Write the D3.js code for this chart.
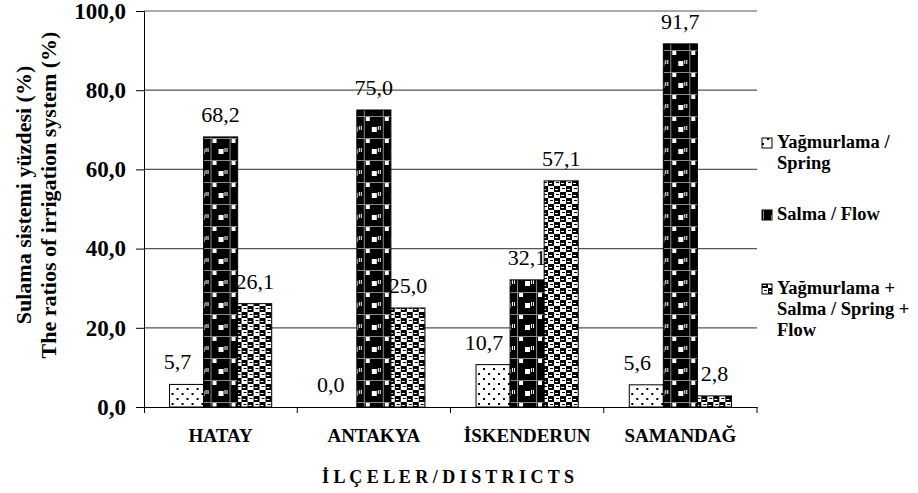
<!DOCTYPE html>
<html>
<head>
<meta charset="utf-8">
<script src="https://cdn.jsdelivr.net/npm/d3@7"></script>
<style>
  html, body { margin: 0; padding: 0; background: #fff; }
  svg { display: block; }
  svg text { font-family: "Times New Roman", "Liberation Serif", Times, Tinos, "DejaVu Serif", serif !important; fill: #000; }
</style>
</head>
<body>
<svg id="chart" width="918" height="493"></svg>
<script>
// Irrigation system shares by district (%)
const districts = ["HATAY", "ANTAKYA", "İSKENDERUN", "SAMANDAĞ"];
const seriesNames = ["Yağmurlama / Spring", "Salma / Flow", "Yağmurlama + Salma / Spring + Flow"];
const springValues = [5.7, 0.0, 10.7, 5.6];
const flowValues = [68.2, 75.0, 32.1, 91.7];
const springFlowValues = [26.1, 25.0, 57.1, 2.8];
const yTicks = [0, 20, 40, 60, 80, 100];
const legendLines = [["Yağmurlama /", "Spring"], ["Salma / Flow"], ["Yağmurlama +", "Salma / Spring +", "Flow"]];
const yTitleLines = ["Sulama sistemi yüzdesi (%)", "The ratios of irrigation system (%)"];
const xTitle = "İ L Ç E L E R / D I S T R I C T S";

const seriesValues = [springValues, flowValues, springFlowValues];
const labelShift = [-9, 0, 0]; // horizontal nudge of value labels per series
const svg = d3.select("#chart");

const plot = { left: 144, right: 757, top: 11, bottom: 407 };

// Fill patterns for the three series
const defs = svg.append("defs");

const dots = defs.append("pattern").attr("id", "pat-spring")
  .attr("patternUnits", "userSpaceOnUse").attr("width", 10).attr("height", 10);
dots.append("rect").attr("width", 10).attr("height", 10).attr("fill", "#fff");
dots.append("rect").attr("x", 2).attr("y", 3).attr("width", 2).attr("height", 2).attr("fill", "#000");
dots.append("rect").attr("x", 7).attr("y", 8).attr("width", 2).attr("height", 2).attr("fill", "#000");

const blocks = defs.append("pattern").attr("id", "pat-flow")
  .attr("patternUnits", "userSpaceOnUse").attr("width", 19).attr("height", 22)
  .attr("x", 3).attr("y", 6);
blocks.append("rect").attr("width", 19).attr("height", 22).attr("fill", "#000");
blocks.append("rect").attr("x", 0).attr("y", 0).attr("width", 19).attr("height", 1).attr("fill", "#8a8a8a");
blocks.append("rect").attr("x", 0).attr("y", 0).attr("width", 1).attr("height", 22).attr("fill", "#8a8a8a");
blocks.append("rect").attr("x", 8).attr("y", 11).attr("width", 5).attr("height", 5).attr("fill", "#fff");
blocks.append("rect").attr("x", 2).attr("y", 1).attr("width", 4).attr("height", 4).attr("fill", "#fff");
blocks.append("rect").attr("x", 14).attr("y", 10).attr("width", 1).attr("height", 4).attr("fill", "#fff");
blocks.append("rect").attr("x", 16).attr("y", 10).attr("width", 1).attr("height", 4).attr("fill", "#fff");

const weave = defs.append("pattern").attr("id", "pat-both")
  .attr("patternUnits", "userSpaceOnUse").attr("width", 12).attr("height", 12);
weave.append("rect").attr("width", 12).attr("height", 12).attr("fill", "#fff");
weave.append("rect").attr("x", 0).attr("y", 0).attr("width", 6).attr("height", 6).attr("fill", "#000");
weave.append("rect").attr("x", 6).attr("y", 6).attr("width", 6).attr("height", 6).attr("fill", "#000");
weave.append("rect").attr("x", 1).attr("y", 3).attr("width", 3).attr("height", 1).attr("fill", "#fff");
weave.append("rect").attr("x", 7).attr("y", 9).attr("width", 3).attr("height", 1).attr("fill", "#fff");
weave.append("rect").attr("x", 8).attr("y", 2).attr("width", 3).attr("height", 1).attr("fill", "#000");
weave.append("rect").attr("x", 2).attr("y", 8).attr("width", 3).attr("height", 1).attr("fill", "#000");

const fills = ["url(#pat-spring)", "url(#pat-flow)", "url(#pat-both)"];

// Scales
const x0 = d3.scaleBand().domain(districts).range([plot.left, plot.right])
  .paddingInner(1 / 3).paddingOuter(1 / 6);
const x1 = d3.scaleBand().domain(d3.range(seriesValues.length)).range([0, x0.bandwidth()]);
const y = d3.scaleLinear().domain([0, 100]).range([plot.bottom, plot.top]);
const fmt = v => d3.format(".1f")(v).replace(".", ",");

// Gridlines
svg.append("g").selectAll("line").data(yTicks.filter(t => t > 0)).join("line")
  .attr("x1", plot.left).attr("x2", plot.right)
  .attr("y1", d => y(d)).attr("y2", d => y(d))
  .attr("stroke", "#555").attr("stroke-width", 1.2);

// Bars
const groups = svg.append("g").selectAll("g").data(districts).join("g")
  .attr("transform", d => `translate(${x0(d)},0)`);

groups.selectAll("rect")
  .data((d, i) => seriesValues.map((vals, s) => ({ s, v: vals[i] })))
  .join("rect")
  .attr("x", d => x1(d.s))
  .attr("y", d => y(d.v))
  .attr("width", x1.bandwidth())
  .attr("height", d => y(0) - y(d.v))
  .attr("fill", d => fills[d.s])
  .attr("stroke", "#000").attr("stroke-width", 1);

// Value labels
groups.selectAll("text.val")
  .data((d, i) => seriesValues.map((vals, s) => ({ s, v: vals[i] })))
  .join("text").attr("class", "val")
  .attr("x", d => x1(d.s) + x1.bandwidth() / 2 + labelShift[d.s])
  .attr("y", d => y(d.v) - 15)
  .attr("text-anchor", "middle")
  .style("font-size", "22px")
  .text(d => fmt(d.v));

// Y axis
const yAxis = svg.append("g").attr("transform", `translate(${plot.left},0)`)
  .call(d3.axisLeft(y).tickValues(yTicks).tickFormat(fmt).tickSize(8).tickPadding(10));
yAxis.attr("font-family", null);
yAxis.select(".domain").attr("stroke", "#000");
yAxis.selectAll(".tick line").attr("stroke", "#000");
yAxis.selectAll("text").style("font-size", "23px").style("font-weight", "bold").attr("fill", "#000");

// X axis
const xAxis = svg.append("g").attr("transform", `translate(0,${plot.bottom})`)
  .call(d3.axisBottom(x0).tickSize(0).tickPadding(22));
xAxis.attr("font-family", null);
xAxis.select(".domain").attr("stroke", "#000");
xAxis.selectAll("text").style("font-size", "19px").style("font-weight", "bold").attr("fill", "#000");
svg.append("g").selectAll("line")
  .data(d3.range(districts.length + 1)).join("line")
  .attr("x1", i => plot.left + i * x0.step() + (i === 0 ? 0.5 : 0))
  .attr("x2", i => plot.left + i * x0.step() + (i === 0 ? 0.5 : 0))
  .attr("y1", plot.bottom).attr("y2", plot.bottom + 6)
  .attr("stroke", "#000");

// Axis titles
const yTitle = svg.append("text")
  .attr("transform", "translate(0,195) rotate(-90)")
  .attr("text-anchor", "middle")
  .style("font-size", "22px").style("font-weight", "bold");
yTitle.selectAll("tspan").data(yTitleLines).join("tspan")
  .attr("x", 0).attr("y", (d, i) => 31 + i * 25)
  .text(d => d);

svg.append("text")
  .attr("x", 448).attr("y", 483)
  .attr("text-anchor", "middle")
  .style("font-size", "18px").style("font-weight", "bold")
  .text(xTitle);

// Legend
const legendTop = [148, 220, 294];
const legend = svg.append("g").selectAll("g").data(seriesNames).join("g");
legend.append("rect")
  .attr("x", 762).attr("y", (d, i) => legendTop[i] - 10)
  .attr("width", 10).attr("height", 10)
  .attr("fill", (d, i) => fills[i]).attr("stroke", "#000").attr("stroke-width", 1);
legend.append("text")
  .style("font-size", "18.5px").style("font-weight", "bold")
  .selectAll("tspan").data((d, i) => legendLines[i].map((t, j) => ({ t, j, i }))).join("tspan")
  .attr("x", 777)
  .attr("y", d => legendTop[d.i] + d.j * 21)
  .text(d => d.t);
</script>
</body>
</html>
